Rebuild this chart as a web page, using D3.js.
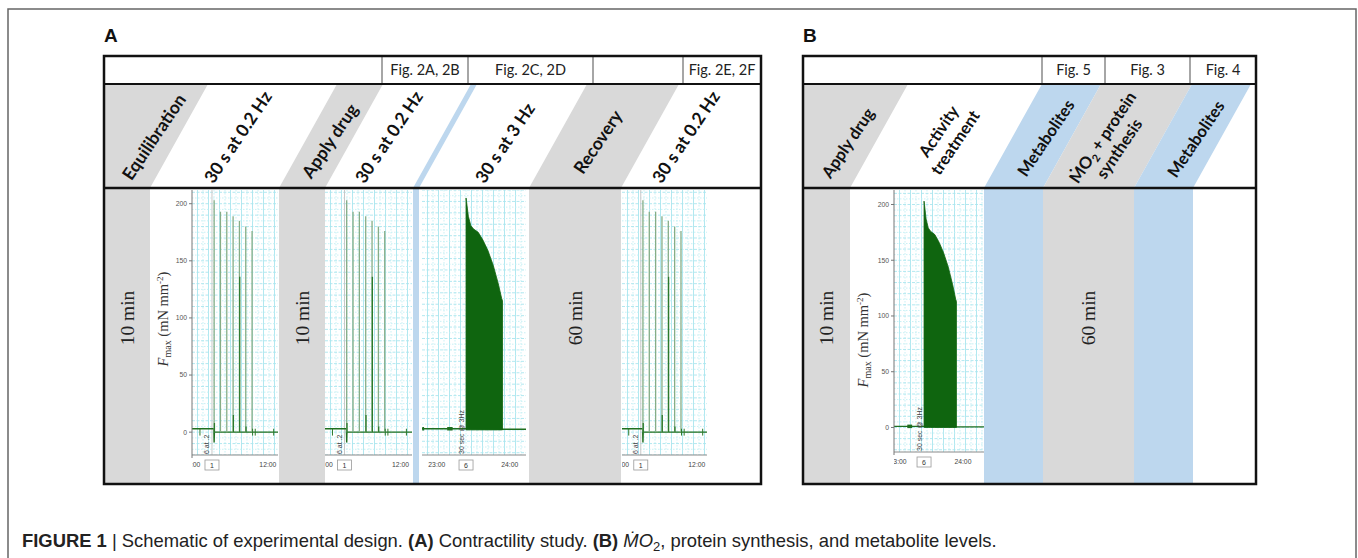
<!DOCTYPE html>
<html>
<head>
<meta charset="utf-8">
<script src="https://cdn.jsdelivr.net/npm/d3@7/dist/d3.min.js"></script>
<style>
html,body{margin:0;padding:0;background:#fff;}
svg{display:block;}
</style>
</head>
<body>
<svg id="fig" width="1358" height="558"></svg>
<script>
// ================= DATA =================
const panelNames = ["A", "B"];
const stepsA = ["Equilibration", "30 s at 0.2 Hz", "Apply drug", "30 s at 0.2 Hz", "30 s at 3 Hz", "Recovery", "30 s at 0.2 Hz"];
const stepsB = [["Apply drug"], ["Activity", "treatment"], ["Metabolites"], ["ṀO₂ + protein", "synthesis"], ["Metabolites"]];
const figRefsA = ["Fig. 2A, 2B", "Fig. 2C, 2D", "", "Fig. 2E, 2F"];
const figRefsB = ["Fig. 5", "Fig. 3", "Fig. 4"];
const durationsA = ["10 min", "10 min", "60 min"];
const durationsB = ["10 min", "60 min"];

// 0.2 Hz twitch trains (s from start of trace, mN mm-2)
const twitchTimes = [17.5, 22.5, 27.5, 32.5, 37.5, 42.5, 47.5];
const twitchPeaks = [203, 193, 193, 189, 185, 180, 176];
const twitchInner = [8, 0, 0, 15, 136, 5, 0];
const twitchBaseT = [0, 17.3, 17.5, 17.7, 70];
const twitchBaseF = [3, 3, -9, 0, 0];
const twitchMarks = [6.3, 47.9, 50, 64.6];
const twitchCommentT = 15.8;

// 3 Hz tetanic burst (s from onset, mN mm-2)
const burstOnset = 24;
const burstT = [0, 0.4, 1.9, 3.9, 6, 10, 14, 18, 22.4, 26.5, 29.3, 30];
const burstF = [203, 200, 187, 179, 176, 173, 166, 157, 144, 128, 115, 113];
const burstBaseT = [-14, 24, 54, 82];
const burstBaseF = [1, 1, 0.5, 0.5];
const burstBlobs = [[-12, -10.5], [8.5, 13]];

const forceTicks = [0, 50, 100, 150, 200];
const clockTimes = [0, 60];
const clockTwitch = ["11:00", "12:00"];
const clockBurst = ["23:00", "24:00"];
const commentNums = ["1", "6"];
const commentTexts = ["6 at .2", "30 sec @ 3Hz"];

const captionParts = [
  ["FIGURE 1", "b"], [" | ", ""], ["Schematic of experimental design. ", ""],
  ["(A)", "b"], [" Contractility study. ", ""], ["(B)", "b"], ["  ", ""],
  ["Ṁ", "i"], ["O", "i"], ["2", "sub"], [", protein synthesis, and metabolite levels.", ""]
];

// ================= LAYOUT =================
const GRAY = "#d9d9d9", BLUE = "#bdd7ee";
const Y_TOP = 56, Y_FIG = 84, Y_HEAD = 188, Y_BOT = 484;
const SLANT = 58;
const panels = [
  { name: "A", x0: 104, x1: 761, labelX: 104,
    bands: [[40, 150, GRAY], [279, 325, GRAY], [413, 419, BLUE], [529, 621, GRAY]],
    dividers: [382, 468, 593, 683], refs: figRefsA,
    steps: stepsA.map(s => [s]),
    stepPos: [[154, 137], [238, 137], [330, 141], [389, 137], [505, 143], [598, 142], [686, 137]],
    stepSize: 17.5,
    durations: durationsA, durX: [127, 302, 575] },
  { name: "B", x0: 803, x1: 1256, labelX: 803,
    bands: [[740, 850, GRAY], [984, 1043, BLUE], [1043, 1134, GRAY], [1134, 1193, BLUE]],
    dividers: [1042, 1105, 1190], refs: figRefsB,
    steps: stepsB,
    stepPos: [[848, 143], [947, 137], [1046, 138], [1111, 143], [1196, 139]],
    stepSize: 16.5,
    durations: durationsB, durX: [826, 1088] }
];

const svg = d3.select("#fig");
const defs = svg.append("defs");

// outer figure frame
svg.append("rect").attr("x", 8).attr("y", 9).attr("width", 1348).attr("height", 620)
  .attr("fill", "none").attr("stroke", "#666").attr("stroke-width", 1.5);

panels.forEach((p, pi) => {
  const g = svg.append("g");
  const cid = "panelclip" + pi;
  defs.append("clipPath").attr("id", cid).append("rect")
    .attr("x", p.x0).attr("y", Y_FIG).attr("width", p.x1 - p.x0).attr("height", Y_BOT - Y_FIG);
  const bg = g.append("g").attr("clip-path", `url(#${cid})`);
  bg.selectAll("path.band").data(p.bands).join("path")
    .attr("fill", d => d[2])
    .attr("d", d => `M${d[0]},${Y_BOT}L${d[0]},${Y_HEAD}L${d[0] + SLANT},${Y_FIG}L${d[1] + SLANT},${Y_FIG}L${d[1]},${Y_HEAD}L${d[1]},${Y_BOT}Z`);

  // panel letter
  g.append("text").attr("x", p.labelX).attr("y", 42).text(p.name)
    .attr("font-family", "Liberation Sans, Arial, sans-serif").attr("font-weight", "bold")
    .attr("font-size", 19).attr("fill", "#111");

  // step labels
  p.steps.forEach((lines, i) => {
    const [cx, cy] = p.stepPos[i];
    const t = g.append("text")
      .attr("transform", `translate(${cx},${cy}) rotate(-56)`)
      .attr("text-anchor", "middle")
      .attr("font-family", "Lato, 'Open Sans', sans-serif").attr("font-weight", 700)
      .attr("font-size", p.stepSize).attr("fill", "#111");
    const lh = 20;
    lines.forEach((ln, li) => {
      const dy0 = (li - (lines.length - 1) / 2) * lh + p.stepSize * 0.35;
      if (ln.includes("₂")) {
        const [a, b] = ln.split("₂");
        t.append("tspan").attr("x", 0).attr("y", dy0).text(a);
        t.append("tspan").attr("dy", 4).attr("font-size", p.stepSize * 0.65).text("2");
        t.append("tspan").attr("dy", -4).text(b);
      } else {
        t.append("tspan").attr("x", 0).attr("y", dy0).text(ln);
      }
    });
  });

  // fig refs row
  const edges = p.dividers.concat([p.x1]);
  p.refs.forEach((r, i) => {
    g.append("text").attr("x", (edges[i] + edges[i + 1]) / 2).attr("y", 75)
      .attr("text-anchor", "middle").text(r)
      .attr("font-family", "Lato, 'Open Sans', sans-serif").attr("font-size", 14.5).attr("fill", "#222");
  });
  g.selectAll("line.div").data(p.dividers).join("line")
    .attr("x1", d => d).attr("x2", d => d).attr("y1", Y_TOP).attr("y2", Y_FIG)
    .attr("stroke", "#a6a6a6").attr("stroke-width", 2);

  // durations
  p.durations.forEach((d, i) => {
    g.append("text").attr("transform", `translate(${p.durX[i]},318) rotate(-90)`)
      .attr("text-anchor", "middle").attr("dy", "0.35em").text(d)
      .attr("font-family", "Liberation Serif, 'Times New Roman', serif")
      .attr("font-size", 19.5).attr("fill", "#222");
  });
  p.g = g;
});

// ================= TRACES =================
const traces = [
  { id: "a1", kind: "twitch", x0: 192, x1: 278, y0: 190, y1: 455, tDom: [0, 68], fDom: [-20, 212], yAxis: true, title: [163, 319] },
  { id: "a2", kind: "twitch", x0: 325, x1: 412, y0: 190, y1: 455, tDom: [0.4, 69], fDom: [-20, 212] },
  { id: "a3", kind: "burst", x0: 422, x1: 526, y0: 190, y1: 455, tDom: [-12.2, 73.3], fDom: [-22, 210] },
  { id: "a4", kind: "twitch", x0: 622, x1: 707, y0: 190, y1: 455, tDom: [1, 68], fDom: [-20, 212] },
  { id: "b1", kind: "burst", x0: 894, x1: 984, y0: 190, y1: 452, tDom: [-3.8, 79.5], fDom: [-22, 213], yAxis: true, title: [863, 340] }
];

const smallFont = "Liberation Sans, Arial, sans-serif";

traces.forEach(c => {
  const g = svg.append("g");
  const x = d3.scaleLinear().domain(c.tDom).range([c.x0, c.x1]);
  const y = d3.scaleLinear().domain(c.fDom).range([c.y1, c.y0]);
  const cid = "clip" + c.id;
  defs.append("clipPath").attr("id", cid).append("rect")
    .attr("x", c.x0).attr("y", c.y0).attr("width", c.x1 - c.x0).attr("height", c.y1 - c.y0);
  const lid = "lclip" + c.id;
  defs.append("clipPath").attr("id", lid).append("rect")
    .attr("x", c.x0).attr("y", c.y1).attr("width", c.x1 - c.x0 + 12).attr("height", 25);

  g.append("rect").attr("x", c.x0).attr("y", c.y0).attr("width", c.x1 - c.x0).attr("height", c.y1 - c.y0).attr("fill", "#fff");
  const pg = g.append("g").attr("clip-path", `url(#${cid})`);

  // grid
  const pxPerS = (c.x1 - c.x0) / (c.tDom[1] - c.tDom[0]);
  const gstep = 11 / pxPerS;
  const tg = d3.range(c.tDom[0] + gstep * 0.5, c.tDom[1], gstep / 2);
  const fg = d3.range(-20, 215, 5);
  pg.selectAll("line.vg").data(tg).join("line")
    .attr("x1", d => x(d)).attr("x2", d => x(d)).attr("y1", c.y0).attr("y2", c.y1)
    .attr("stroke", (d, i) => i % 2 ? "#c3eff4" : "#a9e5ee")
    .attr("stroke-width", 0.9).attr("stroke-dasharray", (d, i) => i % 2 ? "1.5,1.5" : null);
  pg.selectAll("line.hg").data(fg).join("line")
    .attr("y1", d => y(d)).attr("y2", d => y(d)).attr("x1", c.x0).attr("x2", c.x1)
    .attr("stroke", d => d % 10 ? "#c3eff4" : "#a9e5ee")
    .attr("stroke-width", 0.9).attr("stroke-dasharray", d => d % 10 ? "1.5,1.5" : "3,1.5");

  const line = d3.line().x(d => x(d[0])).y(d => y(d[1]));
  let commentT;
  if (c.kind === "twitch") {
    commentT = twitchCommentT;
    pg.append("line").attr("x1", x(commentT)).attr("x2", x(commentT)).attr("y1", c.y0).attr("y2", c.y1)
      .attr("stroke", "#c8c8c8").attr("stroke-width", 1);
    pg.append("path").attr("d", line(d3.zip(twitchBaseT, twitchBaseF)))
      .attr("fill", "none").attr("stroke", "#1f6f1f").attr("stroke-width", 1.4);
    pg.selectAll("line.sp").data(twitchTimes).join("line")
      .attr("x1", d => x(d)).attr("x2", d => x(d)).attr("y1", y(0)).attr("y2", (d, i) => y(twitchPeaks[i]))
      .attr("stroke", "#86ad86").attr("stroke-width", 1.3);
    pg.selectAll("line.in").data(twitchTimes.filter((d, i) => twitchInner[i] > 0)).join("line")
      .attr("x1", d => x(d) + 0.3).attr("x2", d => x(d) + 0.3).attr("y1", y(0))
      .attr("y2", d => y(twitchInner[twitchTimes.indexOf(d)]))
      .attr("stroke", "#2c7a2c").attr("stroke-width", 1.3);
    pg.selectAll("line.mk").data(twitchMarks).join("line")
      .attr("x1", d => x(d)).attr("x2", d => x(d)).attr("y1", y(-3)).attr("y2", y(3))
      .attr("stroke", "#2c7a2c").attr("stroke-width", 1);
  } else {
    commentT = burstOnset;
    pg.append("path").attr("d", line(d3.zip(burstBaseT, burstBaseF)))
      .attr("fill", "none").attr("stroke", "#1f6f1f").attr("stroke-width", 1.4);
    pg.selectAll("line.bl").data(burstBlobs).join("line")
      .attr("x1", d => x(d[0])).attr("x2", d => x(d[1])).attr("y1", y(1)).attr("y2", y(1))
      .attr("stroke", "#1f6f1f").attr("stroke-width", 3.5);
    const area = d3.area().x(d => x(burstOnset + d[0])).y0(y(0)).y1(d => y(d[1]));
    pg.append("path").attr("d", area(d3.zip(burstT, burstF)))
      .attr("fill", "#0f650f").attr("stroke", "#0f650f").attr("stroke-width", 0.8);
  }

  // x axis line
  g.append("line").attr("x1", c.x0).attr("x2", c.x1).attr("y1", c.y1).attr("y2", c.y1)
    .attr("stroke", "#8a8a8a").attr("stroke-width", 1);
  const clocks = c.kind === "twitch" ? clockTwitch : clockBurst;
  const lg = g.append("g").attr("clip-path", `url(#${lid})`);
  lg.selectAll("text.ck").data(clockTimes).join("text")
    .attr("x", d => x(d)).attr("y", c.y1 + 12).attr("text-anchor", "middle")
    .text((d, i) => clocks[i]).attr("font-family", smallFont).attr("font-size", 6.8).attr("fill", "#444");
  // comment box
  const cx = x(commentT);
  g.append("rect").attr("x", cx - 7).attr("y", c.y1 + 5).attr("width", 14).attr("height", 10)
    .attr("fill", "#fff").attr("stroke", "#999").attr("stroke-width", 0.8);
  g.append("text").attr("x", cx).attr("y", c.y1 + 13).attr("text-anchor", "middle")
    .text(c.kind === "twitch" ? commentNums[0] : commentNums[1])
    .attr("font-family", smallFont).attr("font-size", 7).attr("fill", "#333");
  g.append("text").attr("transform", `translate(${cx - 2.5},${c.y1 - 1}) rotate(-90)`)
    .text(c.kind === "twitch" ? commentTexts[0] : commentTexts[1])
    .attr("font-family", smallFont).attr("font-size", 7).attr("fill", "#444");

  if (c.yAxis) {
    g.append("line").attr("x1", c.x0).attr("x2", c.x0).attr("y1", c.y0).attr("y2", c.y1 + 3)
      .attr("stroke", "#777").attr("stroke-width", 1);
    g.selectAll("line.yt").data(forceTicks).join("line")
      .attr("x1", c.x0 - 3).attr("x2", c.x0).attr("y1", d => y(d)).attr("y2", d => y(d))
      .attr("stroke", "#777");
    g.selectAll("text.yl").data(forceTicks).join("text")
      .attr("x", c.x0 - 5).attr("y", d => y(d)).attr("dy", "0.35em").attr("text-anchor", "end")
      .text(d => d).attr("font-family", smallFont).attr("font-size", 6.8).attr("fill", "#555");
    const tt = g.append("text").attr("transform", `translate(${c.title[0]},${c.title[1]}) rotate(-90)`)
      .attr("text-anchor", "middle").attr("dy", "0.35em")
      .attr("font-family", "Liberation Serif, 'Times New Roman', serif").attr("font-size", 14.5).attr("fill", "#333");
    tt.append("tspan").attr("font-style", "italic").text("F");
    tt.append("tspan").attr("dy", 3).attr("font-size", 10).text("max");
    tt.append("tspan").attr("dy", -3).text(" (mN mm");
    tt.append("tspan").attr("dy", -5).attr("font-size", 9).text("-2");
    tt.append("tspan").attr("dy", 5).text(")");
  }
});

// ================= PANEL BORDERS =================
panels.forEach(p => {
  const g = svg.append("g");
  g.append("rect").attr("x", p.x0).attr("y", Y_TOP).attr("width", p.x1 - p.x0).attr("height", Y_BOT - Y_TOP)
    .attr("fill", "none").attr("stroke", "#111").attr("stroke-width", 2.5);
  g.append("line").attr("x1", p.x0).attr("x2", p.x1).attr("y1", Y_FIG).attr("y2", Y_FIG)
    .attr("stroke", "#111").attr("stroke-width", 2);
  g.append("line").attr("x1", p.x0).attr("x2", p.x1).attr("y1", Y_HEAD).attr("y2", Y_HEAD)
    .attr("stroke", "#111").attr("stroke-width", 2.5);
});

// ================= CAPTION =================
const cap = svg.append("text").attr("x", 22).attr("y", 547)
  .attr("font-family", "Liberation Sans, Arial, sans-serif").attr("font-size", 18.4).attr("fill", "#222");
captionParts.forEach(([s, st]) => {
  const ts = cap.append("tspan").text(s);
  if (st === "b") ts.attr("font-weight", "bold");
  if (st === "i") ts.attr("font-style", "italic");
  if (st === "sub") ts.attr("font-size", 13).attr("dy", 4);
  if (st === "" && s.startsWith(", protein")) ts.attr("dy", -4);
});
</script>
</body>
</html>
